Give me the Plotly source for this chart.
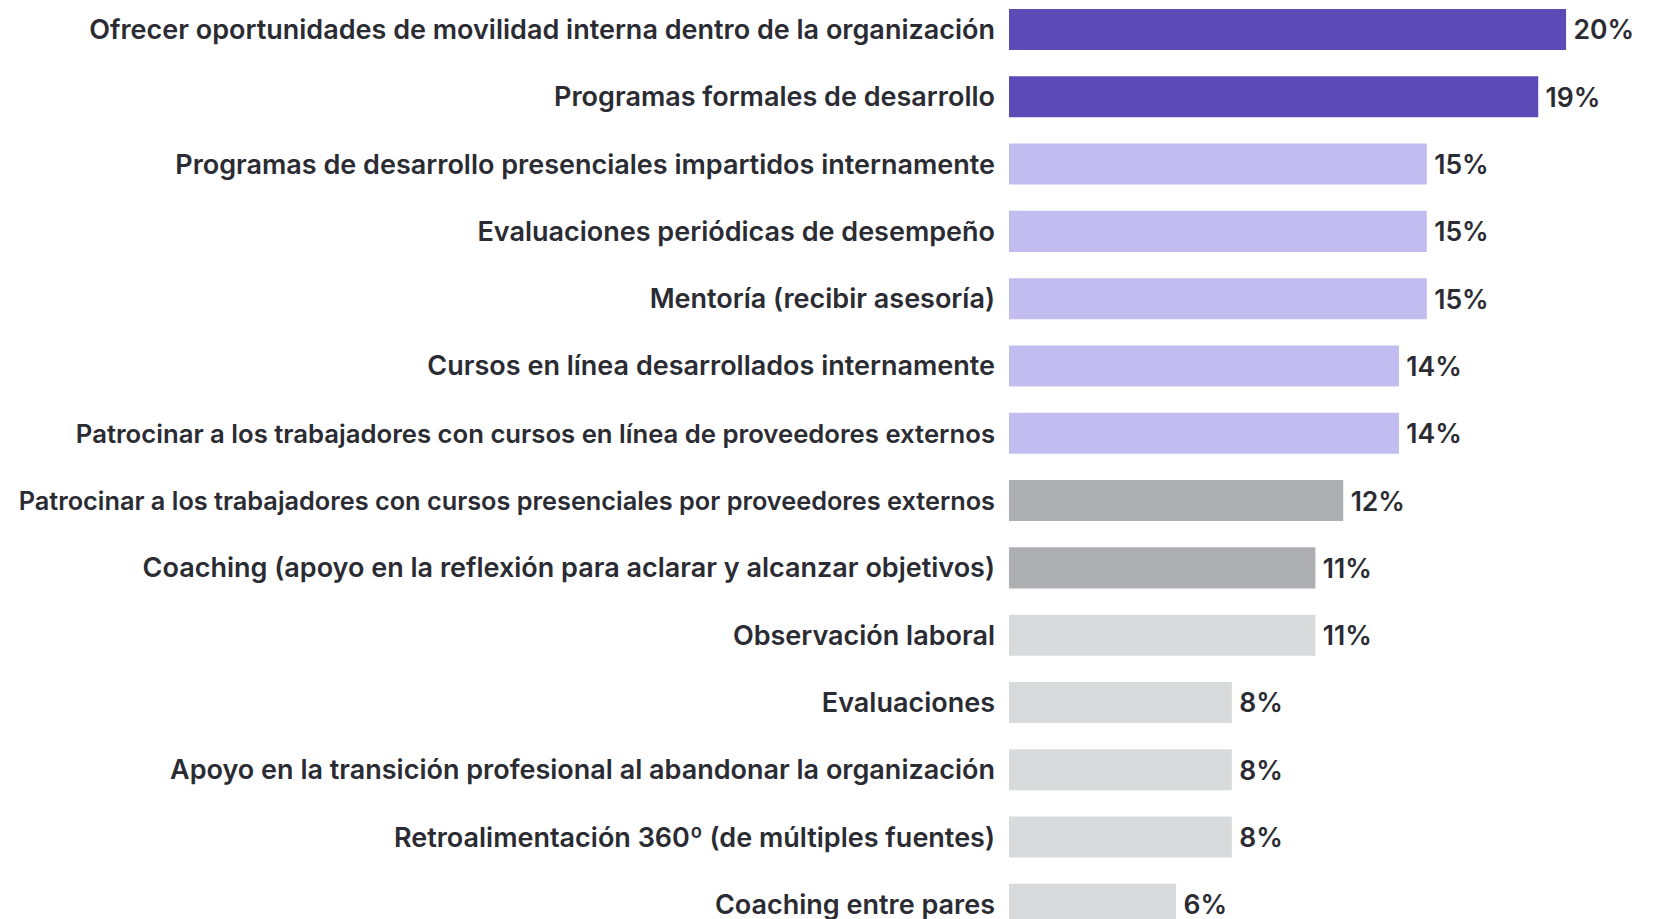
import plotly.graph_objects as go

categories = [
    "Ofrecer oportunidades de movilidad interna dentro de la organización",
    "Programas formales de desarrollo",
    "Programas de desarrollo presenciales impartidos internamente",
    "Evaluaciones periódicas de desempeño",
    "Mentoría (recibir asesoría)",
    "Cursos en línea desarrollados internamente",
    "Patrocinar a los trabajadores con cursos en línea de proveedores externos",
    "Patrocinar a los trabajadores con cursos presenciales por proveedores externos",
    "Coaching (apoyo en la reflexión para aclarar y alcanzar objetivos)",
    "Observación laboral",
    "Evaluaciones",
    "Apoyo en la transición profesional al abandonar la organización",
    "Retroalimentación 360º (de múltiples fuentes)",
    "Coaching entre pares",
]
values = [20, 19, 15, 15, 15, 14, 14, 12, 11, 11, 8, 8, 8, 6]
groups = ["top", "top", "mid", "mid", "mid", "mid", "mid", "gray", "gray",
          "light", "light", "light", "light", "light"]
label_sizes = [27, 27, 27, 27, 27, 27, 25.7, 25.3, 27, 27, 27, 27, 27, 27]
group_colors = {"top": "#5c4bb7", "mid": "#c2bdf0", "gray": "#aeafb3", "light": "#d9dadc"}

TEXT = "#2b2c33"
FONT = "Inter"

fig = go.Figure(go.Bar(
    x=values,
    y=list(range(len(categories))),
    orientation="h",
    marker=dict(color=[group_colors[g] for g in groups], line=dict(width=0)),
    width=0.61,
    text=[f"\u2009{v}%" for v in values],
    textposition="outside",
    cliponaxis=False,
    textfont=dict(family=FONT, size=26.5, color=TEXT, weight=600),
    hoverinfo="skip",
))

ticktext = [f'<span style="font-size:{s}px">{c}</span>' for c, s in zip(categories, label_sizes)]

fig.update_layout(
    width=1663,
    height=919,
    margin=dict(l=1009, r=0, t=0, b=0),
    plot_bgcolor="white",
    paper_bgcolor="white",
    showlegend=False,
    font=dict(family=FONT, color=TEXT),
    xaxis=dict(range=[0, 23.48], visible=False, fixedrange=True),
    yaxis=dict(
        tickmode="array",
        tickvals=list(range(len(categories))),
        ticktext=ticktext,
        range=[13.217, -0.438],
        showgrid=False,
        zeroline=False,
        showline=False,
        ticks="",
        automargin=False,
        ticklabeloverflow="allow",
        ticklabelstandoff=13,
        tickfont=dict(family=FONT, size=27, color=TEXT, weight=600),
        fixedrange=True,
    ),
)

fig.write_html(
    "out.html",
    config={"displayModeBar": False},
    post_script="document.body.style.margin='0';document.body.style.overflow='hidden';",
)
